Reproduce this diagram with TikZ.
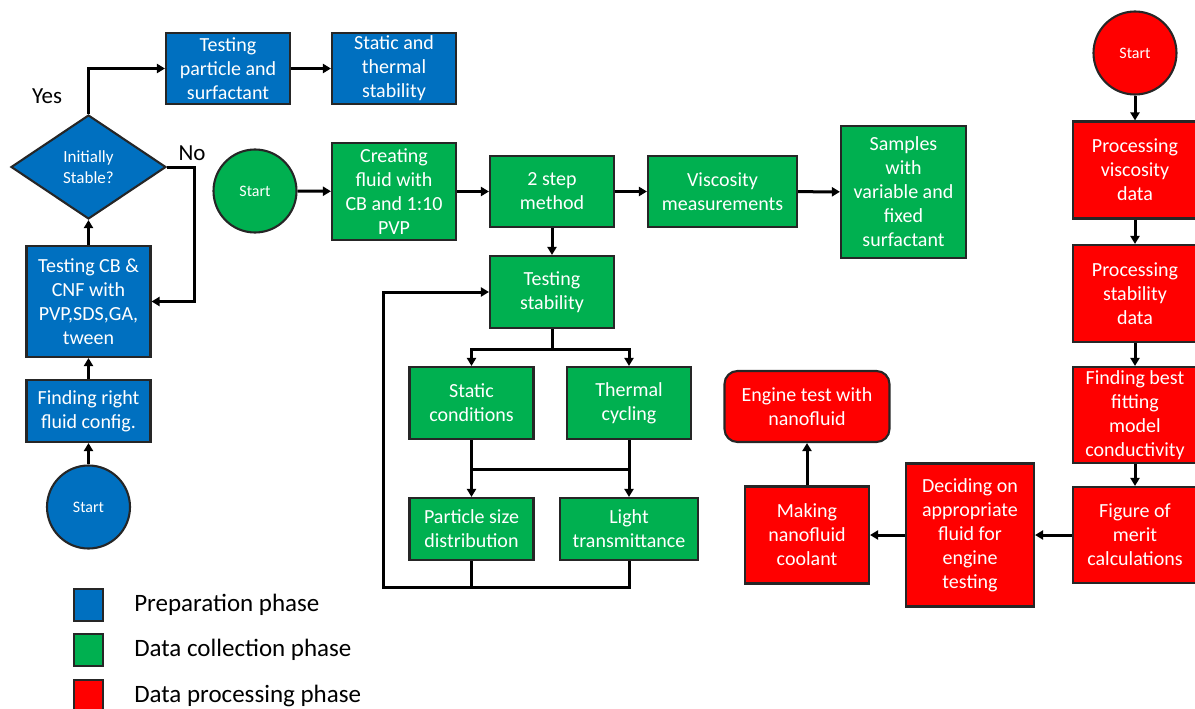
\documentclass[tikz,border=0pt]{standalone}
\usepackage{fontspec}
\setmainfont{Carlito}
\usetikzlibrary{arrows.meta,shapes.geometric,positioning}
\definecolor{prepblue}{HTML}{0070C0}
\definecolor{collgreen}{HTML}{00B050}
\definecolor{procred}{HTML}{FF0000}

\begin{document}
\begin{tikzpicture}[x=1pt,y=-1pt,
	box/.style={draw=black!85,line width=2.1pt,text=white,align=center,inner sep=0pt,
		minimum width=124pt,font=\fontsize{20}{24}\selectfont},
	startc/.style={circle,draw=black!85,line width=2.1pt,text=white,inner sep=0pt,
		minimum size=83pt,font=\fontsize{16}{18}\selectfont},
	conn/.style={line width=3pt,-{Triangle[length=8pt,width=9pt]}},
	wire/.style={line width=3pt},
	legbox/.style={draw=black!85,line width=2.1pt,minimum width=29pt,minimum height=32pt,inner sep=0pt},
	legtext/.style={anchor=west,inner sep=0pt,font=\fontsize{25}{29}\selectfont}]
	\useasboundingbox (0,0) rectangle (1195,709);

	% preparation phase
	\node [startc,fill=prepblue] (bstart) at (88.5,507) {Start};
	\node [box,fill=prepblue,minimum height=62pt] (bfind) at (88.5,411) {Finding right\\fluid config.};
	\node [box,fill=prepblue,minimum height=111pt] (bcnf) at (88.5,301.5) {Testing CB \&\\CNF with\\PVP,SDS,GA,\\tween};
	\node [diamond,draw=black!85,line width=2.1pt,fill=prepblue,text=white,align=center,inner sep=0pt,
		minimum width=155pt,minimum height=104pt,font=\fontsize{17}{21}\selectfont] (bstable) at (88.5,167) {Initially\\Stable?};
	\node [box,fill=prepblue,minimum height=71pt] (bpart) at (228,68.5) {Testing\\particle and\\surfactant};
	\node [box,fill=prepblue,minimum height=71pt] (bstat) at (394,68.5) {Static and\\thermal\\stability};
	\node [font=\fontsize{23}{27}\selectfont] (yes) at (47,96) {Yes};
	\node [font=\fontsize{23}{27}\selectfont] (no) at (192,153) {No};

	\draw [conn] (bstart) to (bfind);
	\draw [conn] (bfind) to (bcnf);
	\draw [conn] (bcnf) to (bstable);
	\draw [conn] (bstable.north) |- (bpart.west);
	\draw [conn] (bpart) to (bstat);
	\draw [conn] (bstable.east) -- ++(27,0) |- (bcnf.east);

	% data collection phase
	\node [startc,fill=collgreen] (gstart) at (255,191) {Start};
	\node [box,fill=collgreen,minimum height=97pt] (gcreate) at (394,191.5) {Creating\\fluid with\\CB and 1:10\\PVP};
	\node [box,fill=collgreen,minimum height=71pt] (gmethod) at (552,191.5) {2 step\\method};
	\node [box,fill=collgreen,minimum height=71pt,minimum width=149pt] (gvisc) at (722.5,191.5) {Viscosity\\measurements};
	\node [box,fill=collgreen,minimum height=132pt,minimum width=125pt] (gsamp) at (903.5,192) {Samples\\with\\variable and\\fixed\\surfactant};
	\node [box,fill=collgreen,minimum height=72pt] (gstab) at (552,292) {Testing\\stability};
	\node [box,fill=collgreen,minimum height=72pt] (gstatic) at (471.5,403) {Static\\conditions};
	\node [box,fill=collgreen,minimum height=72pt] (gtherm) at (629,403) {Thermal\\cycling};
	\node [box,fill=collgreen,minimum height=62pt] (gpsd) at (471.5,529) {Particle size\\distribution};
	\node [box,fill=collgreen,minimum height=62pt,minimum width=138pt] (glight) at (629,529) {Light\\transmittance};
	\coordinate (gj1) at (471.5,469);
	\coordinate (gj2) at (629,469);
	\coordinate (gloop) at (383,587);

	\draw [conn] (gstart) to (gcreate);
	\draw [conn] (gcreate) to (gmethod);
	\draw [conn] (gmethod) to (gvisc);
	\draw [conn] (gvisc) to (gsamp);
	\draw [conn] (gmethod) to (gstab);
	\draw [conn] (gstab.south) -- ++(0,20) -| (gstatic.north);
	\draw [conn] (gstab.south) -- ++(0,20) -| (gtherm.north);
	\draw [conn] (gstatic) to (gpsd);
	\draw [conn] (gtherm) to (glight);
	\draw [wire] (gj1) -- (gj2);
	\draw [wire] (gpsd.south) -- (gpsd.south |- gloop);
	\draw [conn] (glight.south) |- (gloop) |- (gstab.west);

	% data processing phase
	\node [startc,fill=procred] (rstart) at (1135,53) {Start};
	\node [box,fill=procred,minimum height=97pt] (rvisc) at (1135,170) {Processing\\viscosity\\data};
	\node [box,fill=procred,minimum height=97pt] (rstab) at (1135,293.5) {Processing\\stability\\data};
	\node [box,fill=procred,minimum height=96pt] (rfit) at (1135,415) {Finding best\\fitting\\model\\conductivity};
	\node [box,fill=procred,minimum height=96pt] (rmerit) at (1135,535) {Figure of\\merit\\calculations};
	\node [box,fill=procred,minimum height=143pt,minimum width=128pt] (rdecide) at (970,535) {Deciding on\\appropriate\\fluid for\\engine\\testing};
	\node [box,fill=procred,minimum height=97pt] (rmake) at (807,535) {Making\\nanofluid\\coolant};
	\node [box,fill=procred,minimum height=71pt,minimum width=165pt,rounded corners=13pt] (rengine) at (807,406.5) {Engine test with\\nanofluid};

	\draw [conn] (rstart) to (rvisc);
	\draw [conn] (rvisc) to (rstab);
	\draw [conn] (rstab) to (rfit);
	\draw [conn] (rfit) to (rmerit);
	\draw [conn] (rmerit) to (rdecide);
	\draw [conn] (rdecide) to (rmake);
	\draw [conn] (rmake) to (rengine);

	% legend
	\node [legbox,fill=prepblue] (lprep) at (88.5,605) {};
	\node [legbox,fill=collgreen] (lcoll) at (88.5,650) {};
	\node [legbox,fill=procred] (lproc) at (88.5,696) {};
	\node [legtext,right=30pt of lprep] (tprep) {Preparation phase};
	\node [legtext,right=30pt of lcoll] (tcoll) {Data collection phase};
	\node [legtext,right=30pt of lproc] (tproc) {Data processing phase};
\end{tikzpicture}
\end{document}
